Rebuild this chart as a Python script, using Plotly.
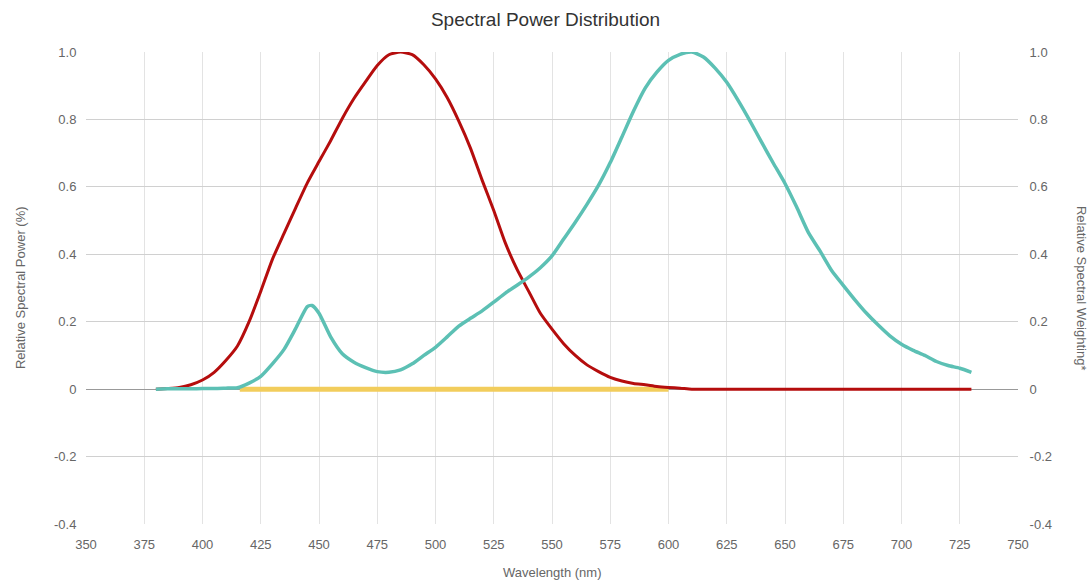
import plotly.graph_objects as go

wl_red = [380, 385, 390, 395, 400, 405, 410, 415, 420, 425, 430, 435, 440, 445, 450, 455, 460, 465,
          470, 475, 480, 485, 490, 495, 500, 505, 510, 515, 520, 525, 530, 535, 540, 545, 550, 555,
          560, 565, 570, 575, 580, 585, 590, 595, 600, 605, 610, 620, 640, 660, 680, 700, 720, 730]
spectral_power = [0, 0.002, 0.005, 0.013, 0.027, 0.05, 0.085, 0.128, 0.2, 0.29, 0.385, 0.462, 0.538,
                  0.612, 0.675, 0.737, 0.803, 0.862, 0.912, 0.96, 0.992, 1.0, 0.992, 0.962, 0.92, 0.865,
                  0.795, 0.715, 0.62, 0.53, 0.433, 0.355, 0.29, 0.225, 0.178, 0.135, 0.1, 0.072, 0.052,
                  0.035, 0.024, 0.017, 0.013, 0.008, 0.005, 0.003, 0, 0, 0, 0, 0, 0, 0, 0]

wl_teal = [380, 385, 390, 395, 400, 405, 410, 415, 420, 425, 430, 435, 440, 445, 447, 450, 455, 460,
           465, 470, 475, 480, 485, 490, 495, 500, 505, 510, 515, 520, 525, 530, 535, 540, 545, 550,
           555, 560, 565, 570, 575, 580, 585, 590, 595, 600, 605, 610, 615, 620, 625, 630, 635, 640,
           645, 650, 655, 660, 665, 670, 675, 680, 685, 690, 695, 700, 705, 710, 715, 720, 725, 730]
spectral_weighting = [0, 0.001, 0.001, 0.001, 0.002, 0.002, 0.003, 0.004, 0.018, 0.038, 0.075, 0.118,
                      0.18, 0.245, 0.248, 0.225, 0.155, 0.105, 0.08, 0.064, 0.052, 0.05, 0.057, 0.075,
                      0.1, 0.124, 0.155, 0.187, 0.21, 0.232, 0.258, 0.285, 0.308, 0.332, 0.36, 0.395,
                      0.445, 0.495, 0.548, 0.605, 0.672, 0.748, 0.825, 0.893, 0.94, 0.975, 0.993, 1.0,
                      0.985, 0.952, 0.91, 0.855, 0.795, 0.732, 0.67, 0.61, 0.54, 0.465, 0.41, 0.352,
                      0.308, 0.265, 0.225, 0.19, 0.158, 0.133, 0.115, 0.1, 0.082, 0.07, 0.062, 0.05]

wl_yellow = [416, 450, 500, 550, 600]
yellow_vals = [0, 0, 0, 0, 0]

y_ticks = [-0.4, -0.2, 0, 0.2, 0.4, 0.6, 0.8, 1.0]
y_tick_text = ["-0.4", "-0.2", "0", "0.2", "0.4", "0.6", "0.8", "1.0"]
x_ticks = list(range(350, 751, 25))

FONT = "Liberation Sans, Arial, sans-serif"
TXT = "#666666"

fig = go.Figure()
fig.add_trace(go.Scatter(x=wl_yellow, y=yellow_vals, mode="lines",
                         line=dict(color="#f2cd5c", width=5), showlegend=False))
fig.add_trace(go.Scatter(x=wl_teal, y=spectral_weighting, mode="lines", yaxis="y2",
                         line=dict(color="#5cc0b4", width=3.5, shape="spline", smoothing=0.6),
                         showlegend=False))
fig.add_trace(go.Scatter(x=wl_red, y=spectral_power, mode="lines",
                         line=dict(color="#b50d0d", width=3, shape="spline", smoothing=0.6),
                         showlegend=False))

fig.update_layout(
    width=1091, height=581,
    margin=dict(l=86, r=73, t=52, b=57),
    paper_bgcolor="white", plot_bgcolor="white",
    font=dict(family=FONT, color=TXT, size=13),
    title=dict(text="Spectral Power Distribution", x=0.5, xanchor="center",
               yref="container", y=0.967, yanchor="middle",
               font=dict(size=19, color="#333333", family=FONT)),
    xaxis=dict(range=[350, 750], tickvals=x_ticks, showgrid=True, gridcolor="#e3e3e3",
               zeroline=False, showline=False, ticks="outside", ticklen=8,
               tickcolor="rgba(0,0,0,0)", tickfont=dict(size=13, color=TXT)),
    yaxis=dict(range=[-0.4, 1.0], tickvals=y_ticks, ticktext=y_tick_text, showgrid=True,
               gridcolor="#d0d0d0", zeroline=True, zerolinecolor="#999999", zerolinewidth=1,
               showline=False, ticks="outside", ticklen=6, tickcolor="rgba(0,0,0,0)",
               tickfont=dict(size=13, color=TXT)),
    yaxis2=dict(range=[-0.4, 1.0], tickvals=y_ticks, ticktext=y_tick_text, overlaying="y",
                side="right", showgrid=False, zeroline=False, showline=False,
                ticks="outside", ticklen=8, tickcolor="rgba(0,0,0,0)",
                tickfont=dict(size=13, color=TXT)),
    annotations=[
        dict(text="Relative Spectral Power (%)", xref="paper", yref="paper", x=-0.0708, y=0.5,
             xanchor="center", yanchor="middle", textangle=-90, showarrow=False,
             font=dict(size=13, color=TXT, family=FONT)),
        dict(text="Relative Spectral Weighting*", xref="paper", yref="paper", x=1.0687, y=0.5,
             xanchor="center", yanchor="middle", textangle=90, showarrow=False,
             font=dict(size=13, color=TXT, family=FONT)),
        dict(text="Wavelength (nm)", xref="paper", yref="paper", x=0.5, y=-0.103,
             xanchor="center", yanchor="middle", showarrow=False,
             font=dict(size=13, color=TXT, family=FONT)),
    ],
)

fig.write_html("out.html", config={"displayModeBar": False},
               post_script="document.body.style.margin='0px';document.body.style.overflow='hidden';")
